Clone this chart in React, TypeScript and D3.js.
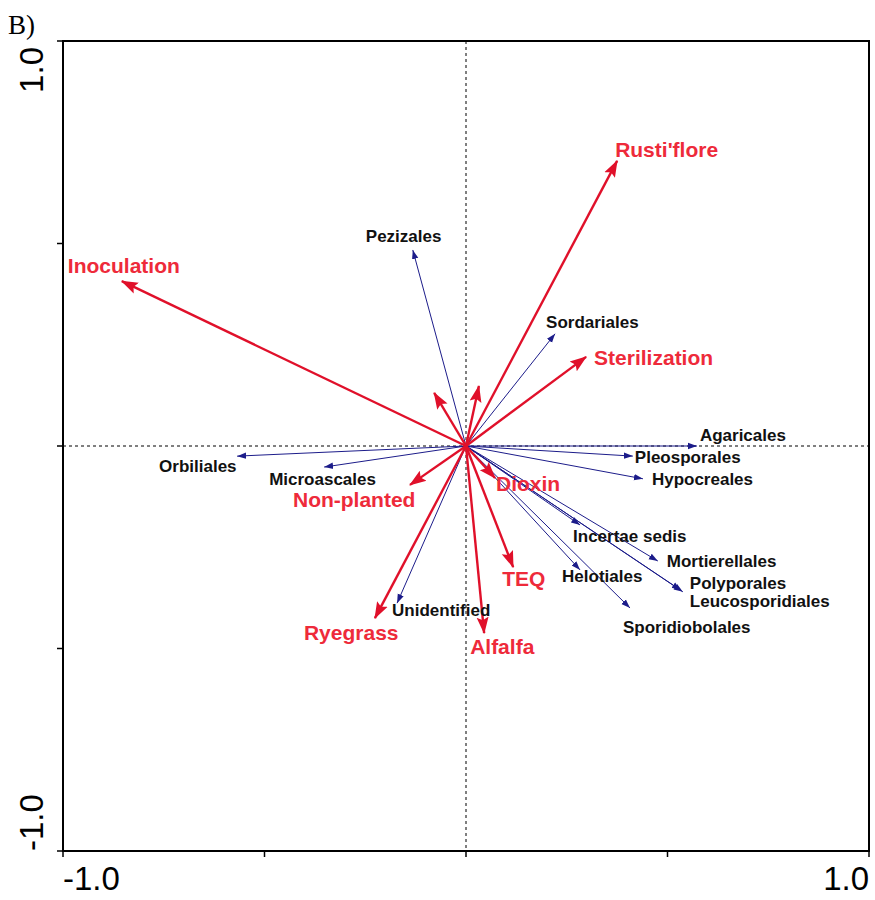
import React from 'react';
import * as d3 from 'd3';

// environmental variables (red arrows), biplot scores
const envNames = ["Rusti'flore", "Inoculation", "Sterilization", "", "", "Dioxin", "Non-planted", "TEQ", "Alfalfa", "Ryegrass"];
const envX = [0.375, -0.854, 0.298, -0.079, 0.032, 0.072, -0.139, 0.117, 0.045, -0.226];
const envY = [0.704, 0.407, 0.22, 0.131, 0.148, -0.079, -0.096, -0.299, -0.462, -0.425];

// fungal orders (blue arrows)
const sppNames = [
  "Pezizales", "Sordariales", "Agaricales", "Pleosporales", "Hypocreales", "Orbiliales", "Microascales",
  "Incertae sedis", "Mortierellales", "Polyporales", "Leucosporidiales", "Helotiales", "Sporidiobolales", "Unidentified",
];
const sppX = [-0.132, 0.221, 0.573, 0.414, 0.439, -0.568, -0.352, 0.283, 0.476, 0.538, 0.533, 0.283, 0.407, -0.171];
const sppY = [0.484, 0.277, 0, -0.025, -0.081, -0.025, -0.052, -0.195, -0.284, -0.36, -0.356, -0.306, -0.4, -0.388];

const tickValues = [-1, -0.5, 0, 0.5, 1];

// label offsets (px) from arrow tip
const labelOffset: Record<string, [number, number]> = {
  "Rusti'flore": [-2, -4],
  "Inoculation": [-54, -8],
  "Sterilization": [8, 8],
  "Dioxin": [1, 13],
  "Non-planted": [-117, 22],
  "TEQ": [-11, 19],
  "Alfalfa": [-14, 21],
  "Ryegrass": [-71, 22],
  "Pezizales": [-47, -8],
  "Sordariales": [-9, -6],
  "Agaricales": [3, -5],
  "Pleosporales": [2, 7],
  "Hypocreales": [9, 6],
  "Orbiliales": [-78, 16],
  "Microascales": [-55, 18],
  "Incertae sedis": [-7, 17],
  "Mortierellales": [9, 6],
  "Polyporales": [7, -3],
  "Leucosporidiales": [9, 17],
  "Helotiales": [-18, 12],
  "Sporidiobolales": [-7, 25],
  "Unidentified": [-5, 13],
};

const RED = '#e0102a';
const RED_TEXT = '#ee2a3a';
const BLUE = '#1c1c8a';

export default function App() {
  const width = 875;
  const height = 900;
  const margin = { top: 41, right: 6, bottom: 49, left: 63 };

  const x = d3.scaleLinear().domain([-1, 1]).range([margin.left, width - margin.right]);
  const y = d3.scaleLinear().domain([-1, 1]).range([height - margin.bottom, margin.top]);
  const x0 = x(0);
  const y0 = y(0);

  return (
    <svg width={width} height={height} style={{ position: 'absolute', left: 0, top: 0, background: '#fff' }}
      fontFamily="'Liberation Sans', Arial, sans-serif">
      <defs>
        <marker id="headRed" markerUnits="userSpaceOnUse" markerWidth={18} markerHeight={14}
          viewBox="0 -7 18 14" refX={16} refY={0} orient="auto">
          <path d="M0,-6 L17,0 L0,6 L3,0 Z" fill={RED} />
        </marker>
        <marker id="headBlue" markerUnits="userSpaceOnUse" markerWidth={10} markerHeight={8}
          viewBox="0 -4 10 8" refX={9} refY={0} orient="auto">
          <path d="M0,-3.2 L9,0 L0,3.2 Z" fill={BLUE} />
        </marker>
      </defs>

      <text x={8} y={34} fontFamily="'Liberation Serif', 'Times New Roman', serif" fontSize={27}>B)</text>

      {/* zero lines */}
      <line x1={x(-1)} x2={x(1)} y1={y0} y2={y0} stroke="#000" strokeWidth={1} strokeDasharray="3,3" />
      <line x1={x0} x2={x0} y1={y(1)} y2={y(-1)} stroke="#000" strokeWidth={1} strokeDasharray="3,3" />

      {/* species arrows */}
      {sppNames.map((n, i) => (
        <line key={'s' + i} x1={x0} y1={y0} x2={x(sppX[i])} y2={y(sppY[i])}
          stroke={BLUE} strokeWidth={1} markerEnd="url(#headBlue)" />
      ))}

      {/* environmental arrows */}
      {envNames.map((n, i) => (
        <line key={'e' + i} x1={x0} y1={y0} x2={x(envX[i])} y2={y(envY[i])}
          stroke={RED} strokeWidth={2.4} markerEnd="url(#headRed)" />
      ))}

      {/* species labels */}
      {sppNames.map((n, i) => {
        const [dx, dy] = labelOffset[n] || [4, 4];
        return (
          <text key={'sl' + i} x={x(sppX[i]) + dx} y={y(sppY[i]) + dy} fontSize={17} fontWeight="bold" fill="#111">{n}</text>
        );
      })}

      {/* environmental labels */}
      {envNames.map((n, i) => {
        if (!n) return null;
        const [dx, dy] = labelOffset[n] || [4, 4];
        return (
          <text key={'el' + i} x={x(envX[i]) + dx} y={y(envY[i]) + dy} fontSize={21} fontWeight="bold" fill={RED_TEXT}>{n}</text>
        );
      })}

      {/* frame */}
      <rect x={x(-1)} y={y(1)} width={x(1) - x(-1)} height={y(-1) - y(1)} fill="none" stroke="#000" strokeWidth={2} />

      {/* left ticks */}
      {tickValues.map(t => (
        <line key={'ly' + t} x1={x(-1) - 6} x2={x(-1)} y1={y(t)} y2={y(t)} stroke="#000" strokeWidth={1.5} />
      ))}
      {/* bottom ticks */}
      {tickValues.map(t => (
        <line key={'bx' + t} x1={x(t)} x2={x(t)} y1={y(-1)} y2={y(-1) + 6} stroke="#000" strokeWidth={1.5} />
      ))}

      {/* tick labels at the extremes */}
      <text x={x(-1)} y={890} fontSize={33} textAnchor="start">-1.0</text>
      <text x={x(1)} y={890} fontSize={33} textAnchor="end">1.0</text>
      <text transform={`translate(43,${y(-1)}) rotate(-90)`} fontSize={33} textAnchor="start">-1.0</text>
      <text transform={`translate(43,${y(1) + 6}) rotate(-90)`} fontSize={33} textAnchor="end">1.0</text>
    </svg>
  );
}
